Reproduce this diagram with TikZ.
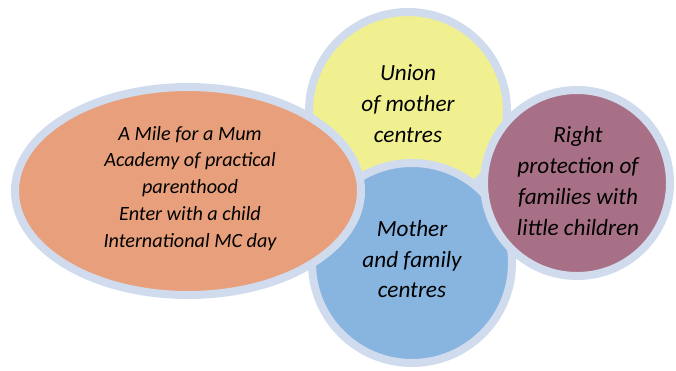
\documentclass[tikz,border=0pt]{standalone}
\usepackage{fontspec}
\setmainfont{Carlito}
\definecolor{rim}{RGB}{208,220,237}
\definecolor{orangefill}{RGB}{232,160,124}
\definecolor{yellowfill}{RGB}{240,240,144}
\definecolor{bluefill}{RGB}{136,180,224}
\definecolor{purplefill}{RGB}{168,112,134}
\begin{document}
\begin{tikzpicture}[x=1pt,y=-1pt,
  blob/.style={draw=rim,line width=8pt},
  bigtext/.style={align=center,font=\itshape\fontsize{23.2}{30.7}\selectfont,inner sep=0pt},
  smalltext/.style={align=center,font=\itshape\fontsize{20.2}{26.75}\selectfont,inner sep=0pt}]
\useasboundingbox (0,0) rectangle (676,370);
% shapes, back to front
\draw[blob,fill=yellowfill] (408,111) circle[radius=99];
\draw[blob,fill=bluefill] (412,263) circle[radius=100];
\draw[blob,fill=orangefill] (188,191) ellipse[x radius=173,y radius=104];
\draw[blob,fill=purplefill] (577,183) circle[radius=93];
% texts
\node[bigtext] (union) at (408,105.4) {\strut Union\\\strut of mother\\\strut centres};
\node[bigtext] (mfc) at (412,260.9) {\strut Mother\\\strut and family\\\strut centres};
\node[bigtext] (right) at (578,182.9) {\strut Right\\\strut protection of\\\strut families with\\\strut little children};
\node[smalltext] (events) at (190,188.2) {\strut A Mile for a Mum\\\strut Academy of practical\\\strut parenthood\\\strut Enter with a child\\\strut International MC day};
\end{tikzpicture}
\end{document}
